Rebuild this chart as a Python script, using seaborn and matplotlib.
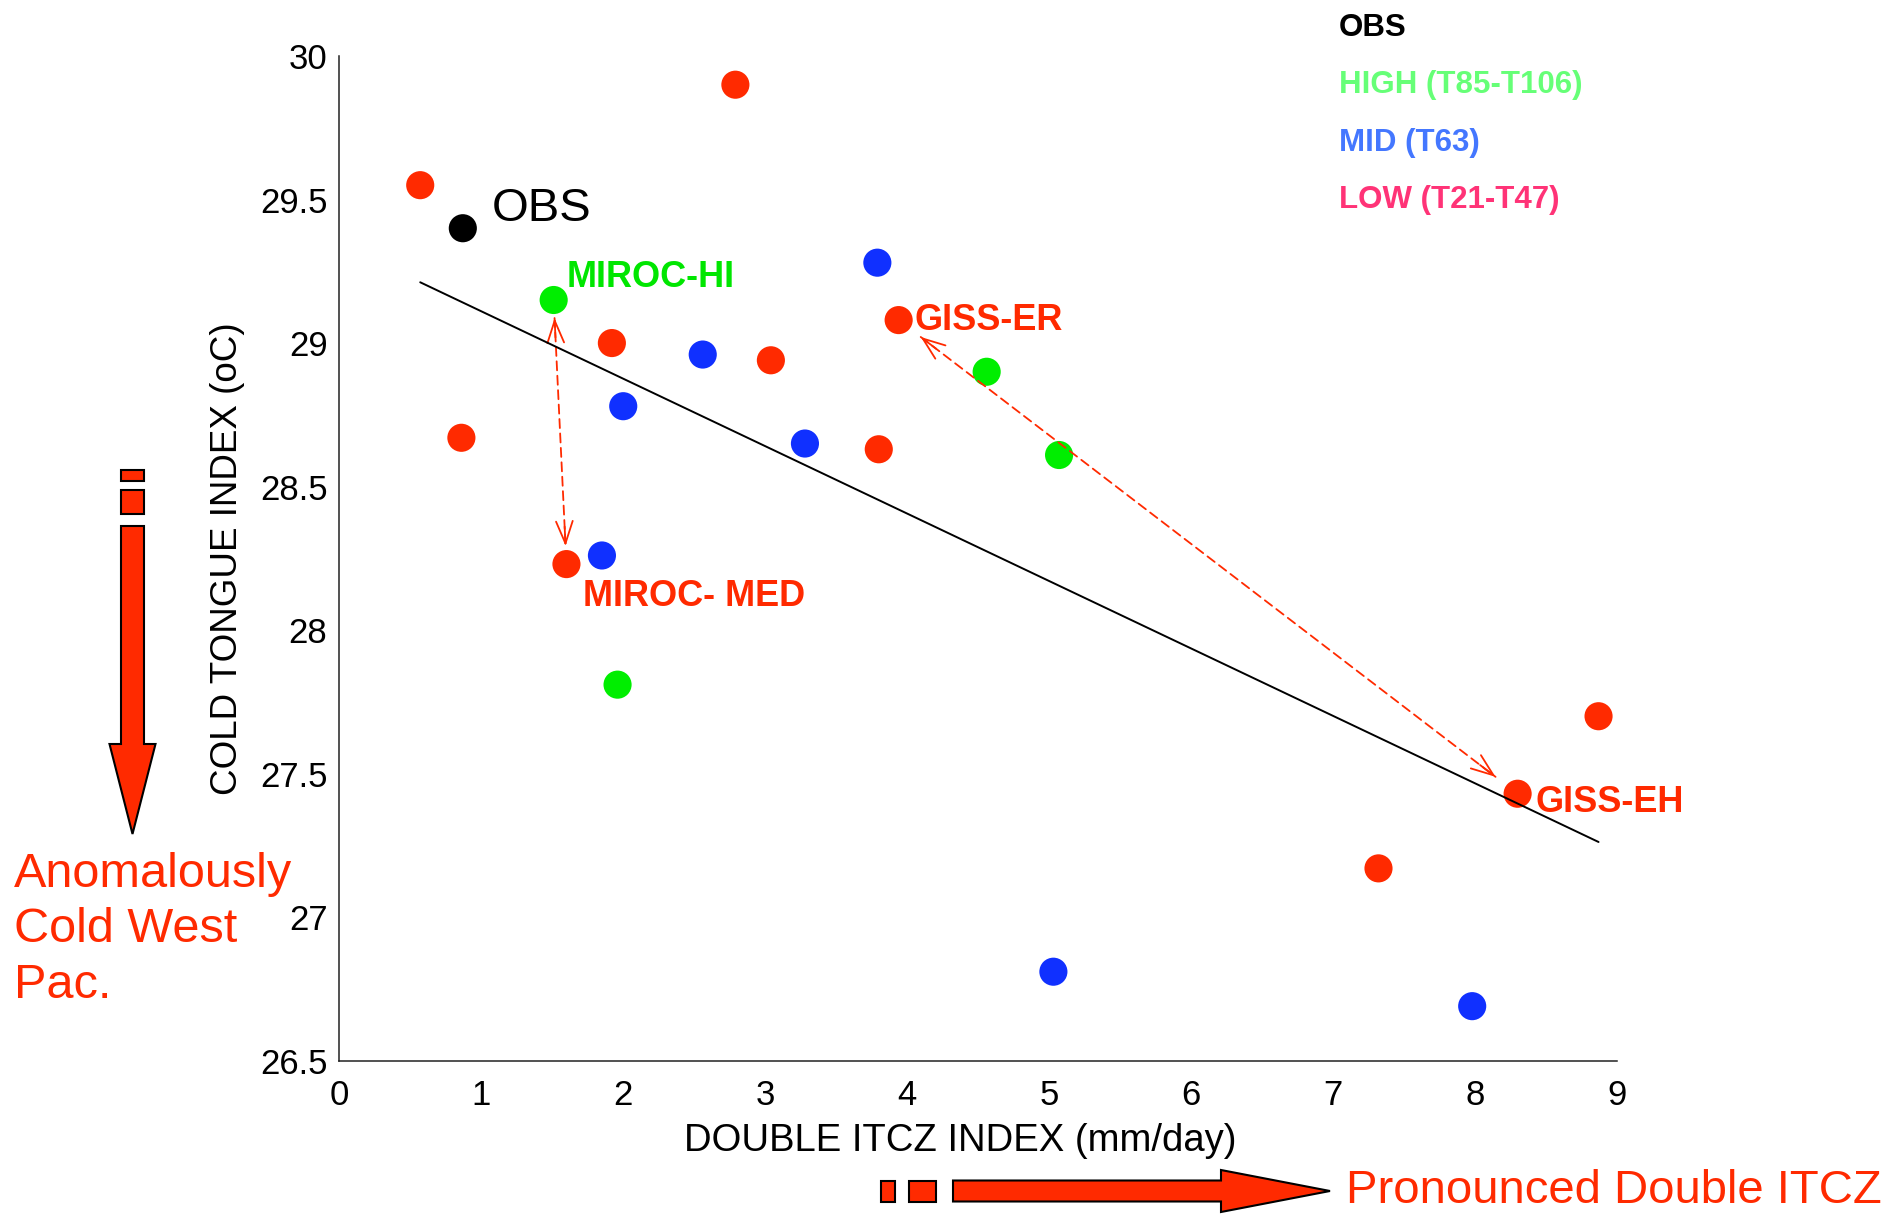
import numpy as np
import pandas as pd
import matplotlib
matplotlib.use('Agg')
import matplotlib.pyplot as plt
from matplotlib.patches import Polygon
import seaborn as sns


# values
low_x = [0.57, 2.79, 0.86, 1.92, 3.04, 3.94, 3.80, 1.60, 8.30, 8.87, 7.32]
low_y = [29.55, 29.90, 28.67, 29.00, 28.94, 29.08, 28.63, 28.23, 27.43, 27.70, 27.17]
mid_x = [3.79, 2.56, 2.00, 3.28, 1.85, 5.03, 7.98]
mid_y = [29.28, 28.96, 28.78, 28.65, 28.26, 26.81, 26.69]
high_x = [1.51, 4.56, 5.07, 1.96]
high_y = [29.15, 28.90, 28.61, 27.81]
obs_x = [0.87]
obs_y = [29.40]

x_ticks = [0, 1, 2, 3, 4, 5, 6, 7, 8, 9]
y_ticks = [26.5, 27, 27.5, 28, 28.5, 29, 29.5, 30]

legend_labels = ['OBS', 'HIGH (T85-T106)', 'MID (T63)', 'LOW (T21-T47)']

# labelled models: name, group, index inside group
named_models = [('MIROC-HI', 'HIGH', 0), ('GISS-ER', 'LOW', 5),
                ('MIROC- MED', 'LOW', 7), ('GISS-EH', 'LOW', 8)]
linked_pairs = [('MIROC-HI', 'MIROC- MED'), ('GISS-ER', 'GISS-EH')]


RED = '#FF2A00'
colors = {'LOW': RED, 'MID': '#1030FF', 'HIGH': '#00EE00', 'OBS': 'black'}
legend_colors = ['black', '#66FF77', '#4477FF', '#FF3377']

df = pd.concat([
    pd.DataFrame({'x': low_x, 'y': low_y, 'res': 'LOW'}),
    pd.DataFrame({'x': mid_x, 'y': mid_y, 'res': 'MID'}),
    pd.DataFrame({'x': high_x, 'y': high_y, 'res': 'HIGH'}),
    pd.DataFrame({'x': obs_x, 'y': obs_y, 'res': 'OBS'}),
], ignore_index=True)
models = df[df['res'] != 'OBS']

sns.set_style('white')
plt.rcParams['font.family'] = ['Liberation Sans', 'DejaVu Sans']
plt.rcParams['text.color'] = 'black'
plt.rcParams['axes.labelcolor'] = 'black'

W, H = 1896, 1215
fig = plt.figure(figsize=(W / 100, H / 100), dpi=100)
ax = fig.add_axes([339.3 / W, 1 - 1060.7 / H, (1617 - 339.3) / W, (1060.7 - 56) / H])

sns.scatterplot(data=df, x='x', y='y', hue='res', palette=colors, s=410,
                linewidth=0, legend=False, ax=ax, zorder=2)
# least squares line through the model points
sns.regplot(data=models, x='x', y='y', scatter=False, ci=None, truncate=True,
            color='black', line_kws={'lw': 1.4, 'zorder': 4}, ax=ax)

ax.set_xlim(0, 9)
ax.set_ylim(26.5, 30)
ax.set_xticks(x_ticks)
ax.set_yticks(y_ticks)
ax.set_yticklabels([f'{v:g}' for v in y_ticks])
sns.despine(ax=ax)
for s in ['left', 'bottom']:
    ax.spines[s].set_color('#222222')
    ax.spines[s].set_linewidth(1.1)
ax.tick_params(direction='in', length=10, width=1.1, labelsize=25, colors='black')
ax.tick_params(axis='x', pad=13)
ax.tick_params(axis='y', pad=8.5)

ax.set_xlabel('DOUBLE ITCZ INDEX (mm/day)', fontsize=27.5)
ax.set_ylabel('COLD TONGUE INDEX (oC)', fontsize=26.5)
ax.xaxis.set_label_coords(0.486, -0.062)
ax.yaxis.set_label_coords(-0.074, 0.5)

# point labels
ax.annotate('OBS', (obs_x[0], obs_y[0]), xytext=(21, 14), textcoords='offset points',
            fontsize=34, va='center', ha='left', color='black')

groups = {'LOW': (low_x, low_y), 'MID': (mid_x, mid_y), 'HIGH': (high_x, high_y)}
label_offsets = {'MIROC-HI': (9.5, 16.5), 'GISS-ER': (11.5, 0),
                 'MIROC- MED': (12, -23), 'GISS-EH': (13, -6)}
pos = {}
for name, grp, i in named_models:
    gx, gy = groups[grp]
    pos[name] = np.array([gx[i], gy[i]])
    c = '#00E600' if grp == 'HIGH' else RED
    ax.annotate(name, pos[name], xytext=label_offsets[name], textcoords='offset points',
                fontsize=26, fontweight='bold', color=c, va='center', ha='left')

# dashed double arrows between the linked models
shrink = [13, 20]
for (a, b), sh in zip(linked_pairs, shrink):
    pa, pb = pos[a], pos[b]
    d = ax.transData.transform(pb) - ax.transData.transform(pa)
    u = d / np.linalg.norm(d)
    ax.annotate('', xy=pb, xytext=pa,
                arrowprops=dict(arrowstyle='-', ls=(0, (5, 3)), color=RED, lw=1.3,
                                shrinkA=sh, shrinkB=sh))
    for p, v in ((pa, u), (pb, -u)):
        ax.annotate('', xy=p, xytext=tuple(v * (sh + 14)), textcoords='offset points',
                    arrowprops=dict(arrowstyle='->,head_length=1.6,head_width=0.6',
                                    color=RED, lw=1.3, shrinkA=0, shrinkB=sh))

# legend text
for k, (lab, c) in enumerate(zip(legend_labels, legend_colors)):
    fig.text(1339 / W, 1 - (28 + 57.5 * k) / H, lab, color=c, fontsize=22.5,
             fontweight='bold', va='center', ha='left')


def px(pts):
    return [(x / W, 1 - y / H) for x, y in pts]


def block(pts):
    fig.add_artist(Polygon(px(pts), closed=True, transform=fig.transFigure,
                           facecolor=RED, edgecolor='black', lw=1.5))


# vertical arrow on the left
cx, hw, hh = 132.5, 11.5, 23
block([(cx - hw, 470), (cx + hw, 470), (cx + hw, 481), (cx - hw, 481)])
block([(cx - hw, 490), (cx + hw, 490), (cx + hw, 514), (cx - hw, 514)])
block([(cx - hw, 526), (cx + hw, 526), (cx + hw, 744), (cx + hh, 744),
       (cx, 834), (cx - hh, 744), (cx - hw, 744)])
fig.text(14 / W, 1 - 852 / H, 'Anomalously\nCold West\nPac.', color=RED, fontsize=35,
         va='top', ha='left', linespacing=1.3)

# horizontal arrow at the bottom
cy, hw, hh = 1191, 10.5, 21
block([(881, cy - hw), (895, cy - hw), (895, cy + hw), (881, cy + hw)])
block([(909, cy - hw), (936, cy - hw), (936, cy + hw), (909, cy + hw)])
block([(953, cy - hw), (1221, cy - hw), (1221, cy - hh), (1330, cy),
       (1221, cy + hh), (1221, cy + hw), (953, cy + hw)])
fig.text(1346 / W, 1 - cy / H, 'Pronounced Double ITCZ', color=RED, fontsize=34,
         va='center', ha='left')

fig.savefig('out.png', dpi=100, facecolor='white')
